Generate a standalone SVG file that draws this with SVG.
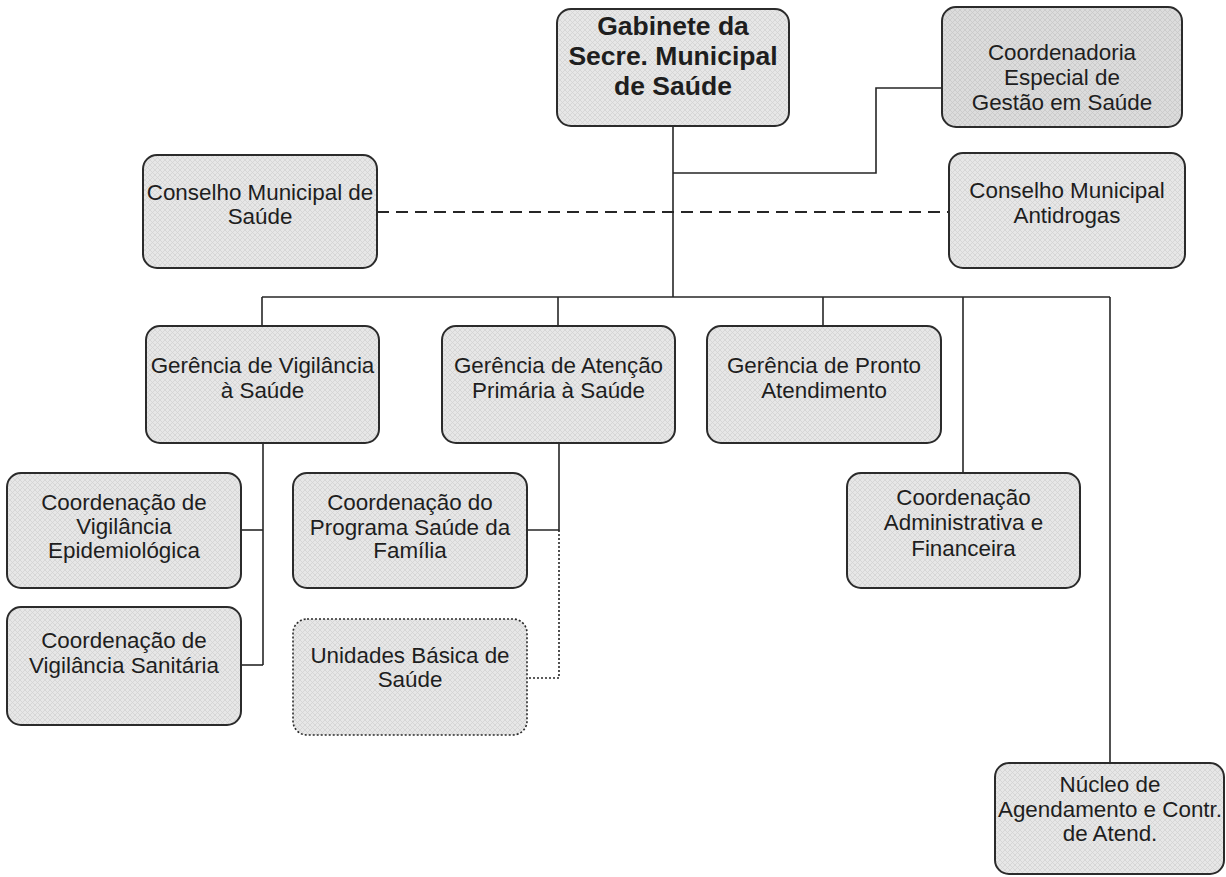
<svg xmlns="http://www.w3.org/2000/svg" width="1226" height="877" viewBox="0 0 1226 877">
  <defs>
    <pattern id="hatch" width="5" height="5" patternUnits="userSpaceOnUse">
      <rect width="5" height="5" fill="#e7e7e7"/>
      <path d="M0,0 L5,5 M5,0 L0,5" stroke="#d3d3d3" stroke-width="0.8"/>
    </pattern>
    <pattern id="hatchDark" width="5" height="5" patternUnits="userSpaceOnUse">
      <rect width="5" height="5" fill="#dcdcdc"/>
      <path d="M0,0 L5,5 M5,0 L0,5" stroke="#c8c8c8" stroke-width="0.8"/>
    </pattern>
    <style>
      .box { fill: url(#hatch); stroke: #2b2b2b; stroke-width: 2; }
      .dark { fill: url(#hatchDark); }
      .dotted { stroke-dasharray: 2 2; stroke-width: 1.6; }
      .t { font-family: "Liberation Sans", Arial, sans-serif; font-size: 22.4px; fill: #1e1e1e; text-anchor: middle; }
      .tb { font-family: "Liberation Sans", Arial, sans-serif; font-size: 26.5px; font-weight: bold; fill: #1e1e1e; text-anchor: middle; }
      .ln { fill: none; stroke: #262626; stroke-width: 1.6; }
      .dash { stroke-dasharray: 12 7; stroke-width: 2; }
      .dot { stroke-dasharray: 2 2; }
    </style>
  </defs>
  <rect width="1226" height="877" fill="#ffffff"/>

  <g id="connectors">
    <path class="ln" d="M673,126 V297"/>
    <path class="ln" d="M673,173 H876 V88 H942"/>
    <path class="ln dash" d="M377,212 H949"/>
    <path class="ln" d="M262,297 H1110"/>
    <path class="ln" d="M262,297 V326"/>
    <path class="ln" d="M558,297 V326"/>
    <path class="ln" d="M823,297 V326"/>
    <path class="ln" d="M963,297 V473"/>
    <path class="ln" d="M1110,297 V763"/>
    <path class="ln" d="M263,443 V665"/>
    <path class="ln" d="M241,530 H263"/>
    <path class="ln" d="M241,665 H263"/>
    <path class="ln" d="M559,443 V530 H527"/>
    <path class="ln dot" d="M559,530 V678 H527"/>
  </g>

  <g id="gabinete">
    <rect class="box" x="557" y="9" width="232" height="117" rx="14"/>
    <text class="tb" x="673" y="35">Gabinete da</text>
    <text class="tb" x="673" y="65">Secre. Municipal</text>
    <text class="tb" x="673" y="95">de Saúde</text>
  </g>

  <g id="coordenadoria">
    <rect class="box dark" x="942" y="7" width="240" height="120" rx="14"/>
    <text class="t" x="1062" y="60">Coordenadoria</text>
    <text class="t" x="1062" y="85">Especial de</text>
    <text class="t" x="1062" y="110">Gestão em Saúde</text>
  </g>

  <g id="conselho-saude">
    <rect class="box" x="143" y="155" width="234" height="113" rx="14"/>
    <text class="t" x="260" y="200">Conselho Municipal de</text>
    <text class="t" x="260" y="224">Saúde</text>
  </g>

  <g id="conselho-antidrogas">
    <rect class="box" x="949" y="153" width="236" height="115" rx="14"/>
    <text class="t" x="1067" y="198">Conselho Municipal</text>
    <text class="t" x="1067" y="223">Antidrogas</text>
  </g>

  <g id="gerencia-vigilancia">
    <rect class="box" x="146" y="326" width="233" height="117" rx="14"/>
    <text class="t" x="262.5" y="373">Gerência de Vigilância</text>
    <text class="t" x="262.5" y="398">à Saúde</text>
  </g>

  <g id="gerencia-atencao">
    <rect class="box" x="442" y="326" width="233" height="117" rx="14"/>
    <text class="t" x="558.5" y="373">Gerência de Atenção</text>
    <text class="t" x="558.5" y="398">Primária à Saúde</text>
  </g>

  <g id="gerencia-pronto">
    <rect class="box" x="707" y="326" width="234" height="117" rx="14"/>
    <text class="t" x="824" y="373">Gerência de Pronto</text>
    <text class="t" x="824" y="398">Atendimento</text>
  </g>

  <g id="coord-administrativa">
    <rect class="box" x="847" y="473" width="233" height="115" rx="14"/>
    <text class="t" x="963.5" y="505">Coordenação</text>
    <text class="t" x="963.5" y="530">Administrativa e</text>
    <text class="t" x="963.5" y="556">Financeira</text>
  </g>

  <g id="coord-epidemiologica">
    <rect class="box" x="7" y="473" width="234" height="115" rx="14"/>
    <text class="t" x="124" y="510">Coordenação de</text>
    <text class="t" x="124" y="534">Vigilância</text>
    <text class="t" x="124" y="558">Epidemiológica</text>
  </g>

  <g id="coord-sanitaria">
    <rect class="box" x="7" y="607" width="234" height="118" rx="14"/>
    <text class="t" x="124" y="648">Coordenação de</text>
    <text class="t" x="124" y="673">Vigilância Sanitária</text>
  </g>

  <g id="coord-familia">
    <rect class="box" x="293" y="473" width="234" height="115" rx="14"/>
    <text class="t" x="410" y="510">Coordenação do</text>
    <text class="t" x="410" y="535">Programa Saúde da</text>
    <text class="t" x="410" y="558">Família</text>
  </g>

  <g id="unidades-basicas">
    <rect class="box dotted" x="293" y="619" width="234" height="116" rx="14"/>
    <text class="t" x="410" y="663">Unidades Básica de</text>
    <text class="t" x="410" y="687">Saúde</text>
  </g>

  <g id="nucleo-agendamento">
    <rect class="box" x="995" y="763" width="229" height="111" rx="14"/>
    <text class="t" x="1110" y="792">Núcleo de</text>
    <text class="t" x="1110" y="817">Agendamento e Contr.</text>
    <text class="t" x="1110" y="841">de Atend.</text>
  </g>
</svg>
